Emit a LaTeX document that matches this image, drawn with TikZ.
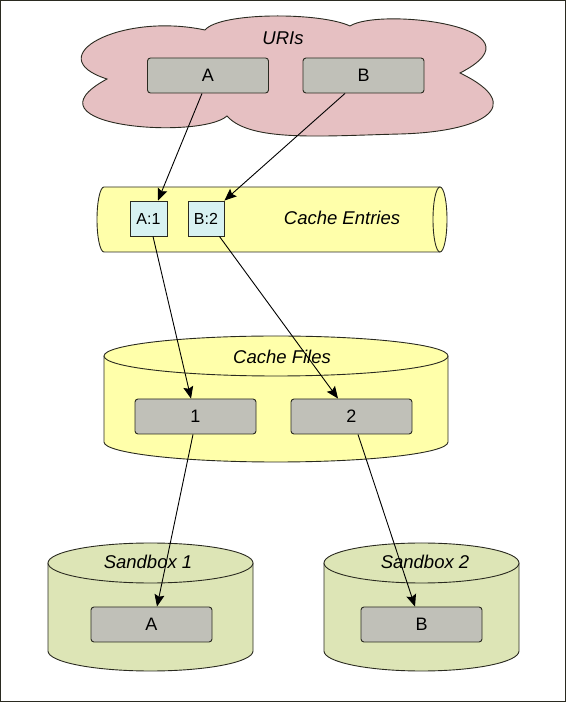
\documentclass[tikz,border=0pt]{standalone}
\usepackage{fontspec}
\setmainfont{Liberation Sans}
\usetikzlibrary{arrows.meta}
\definecolor{cloudpink}{HTML}{E6C0C2}
\definecolor{boxgray}{HTML}{C0C0B8}
\definecolor{cyl}{HTML}{FFFFAA}
\definecolor{entry}{HTML}{D8F2F2}
\definecolor{sand}{HTML}{DDE5B6}
\definecolor{edge}{HTML}{2A2A20}
\tikzset{
  x=1pt, y=1pt,
  outline/.style={draw=edge, line width=0.9pt},
  graybox/.style={outline, fill=boxgray, rounded corners=3pt, inner sep=0pt,
    minimum width=121pt, minimum height=35pt, font=\fontsize{18}{20}\selectfont},
  entrybox/.style={outline, fill=entry, inner sep=0pt,
    minimum width=36pt, minimum height=35pt, font=\fontsize{16}{18}\selectfont},
  title/.style={font=\fontsize{18.5}{20}\selectfont\itshape, inner sep=0pt},
  arr/.style={draw=black, line width=0.9pt, -{Stealth[length=12pt,width=10pt,inset=2pt]}}
}
\begin{document}
\begin{tikzpicture}
\useasboundingbox (0,0) rectangle (566,702);
\draw[draw=edge, line width=1pt] (0.5,0.5) rectangle (565.5,701.5);

% cloud
\draw[outline, fill=cloudpink]
  (107,623) .. controls (38,645) and (120,690) .. (205,672)
  .. controls (220,690) and (320,690) .. (350,676)
  .. controls (380,695) and (550,675) .. (460,629)
  .. controls (530,595) and (480,570) .. (400,568)
  .. controls (320,566) and (250,560) .. (227,586)
  .. controls (200,562) and (18,575) .. (107,623) -- cycle;

% cache entries (horizontal cylinder)
\path[fill=cyl] (104,515) -- (440,515) -- (440,450) -- (104,450)
  arc[start angle=270, end angle=90, x radius=7, y radius=32.5] -- cycle;
\draw[outline] (440,515) -- (104,515)
  arc[start angle=90, end angle=270, x radius=7, y radius=32.5] -- (440,450);
\draw[outline, fill=cyl] (440,482.5) ellipse [x radius=7, y radius=32.5];

% cache files (vertical cylinder)
\path[fill=cyl] (104,346) -- (104,260)
  arc[start angle=180, end angle=360, x radius=172, y radius=20] -- (448,346) -- cycle;
\draw[outline] (104,346) -- (104,260)
  arc[start angle=180, end angle=360, x radius=172, y radius=20] -- (448,346);
\draw[outline, fill=cyl] (276,346) ellipse [x radius=172, y radius=20];

% sandbox 1
\path[fill=sand] (48,139) -- (48,51)
  arc[start angle=180, end angle=360, x radius=102.5, y radius=20] -- (253,139) -- cycle;
\draw[outline] (48,139) -- (48,51)
  arc[start angle=180, end angle=360, x radius=102.5, y radius=20] -- (253,139);
\draw[outline, fill=sand] (150.5,139) ellipse [x radius=102.5, y radius=20];

% sandbox 2
\path[fill=sand] (324,139) -- (324,51)
  arc[start angle=180, end angle=360, x radius=97.5, y radius=20] -- (519,139) -- cycle;
\draw[outline] (324,139) -- (324,51)
  arc[start angle=180, end angle=360, x radius=97.5, y radius=20] -- (519,139);
\draw[outline, fill=sand] (421.5,139) ellipse [x radius=97.5, y radius=20];

% titles
\node[title] (turis) at (283,664) {URIs};
\node[title] (tentries) at (342,484) {Cache Entries};
\node[title] (tfiles) at (282,345) {Cache Files};
\node[title] (tsb1) at (148,140) {Sandbox 1};
\node[title] (tsb2) at (425,140) {Sandbox 2};

% boxes
\node[graybox] (uA) at (208,626.5) {A};
\node[graybox] (uB) at (363.5,626.5) {B};
\node[entrybox, minimum width=37pt] (eA) at (148.5,483.5) {A:1};
\node[entrybox] (eB) at (206,483.5) {B:2};
\node[graybox] (f1) at (195.5,285.5) {1};
\node[graybox] (f2) at (351.5,285.5) {2};
\node[graybox] (sA) at (151.5,77.5) {A};
\node[graybox] (sB) at (421.5,77.5) {B};

% connectors
\draw[arr] ([xshift=-6pt]uA.south) -- ([xshift=9.5pt]eA.north);
\draw[arr] ([xshift=-18.5pt]uB.south) -- (eB.north east);
\draw[arr] ([xshift=4.5pt]eA.south) -- ([xshift=-4.5pt]f1.north);
\draw[arr] ([xshift=-5pt]eB.south east) -- ([xshift=-13.5pt]f2.north);
\draw[arr] ([xshift=-2.5pt]f1.south) -- ([xshift=5.5pt]sA.north);
\draw[arr] ([xshift=6.5pt]f2.south) -- ([xshift=-6.5pt]sB.north);
\end{tikzpicture}
\end{document}
